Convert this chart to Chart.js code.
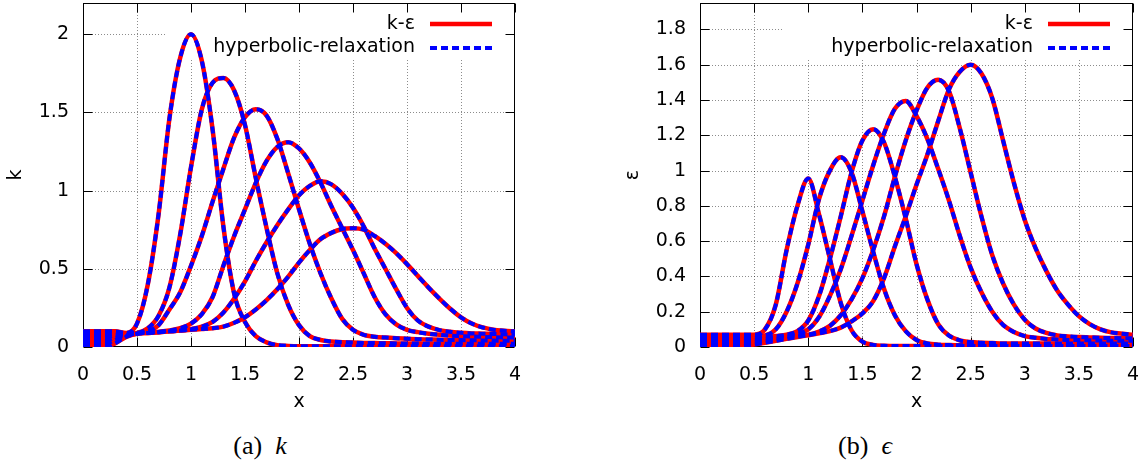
<!DOCTYPE html>
<html><head><meta charset="utf-8">
<script src="https://cdn.jsdelivr.net/npm/chart.js@4.4.1/dist/chart.umd.min.js"></script>
<style>
html,body{margin:0;padding:0;background:#fff;}
#wrap{position:relative;width:1147px;height:467px;overflow:hidden;background:#fff;}
.cv{position:absolute;top:0;}
.cap{position:absolute;top:433px;font-family:"Liberation Serif","DejaVu Serif",serif;font-size:26px;line-height:26px;white-space:nowrap;color:#000;text-align:center;width:200px;}
.cap i{font-style:italic;}
</style></head>
<body><div id="wrap">
<div class="cv" style="left:0;"><canvas id="c1" width="570" height="420"></canvas></div>
<div class="cv" style="left:617px;"><canvas id="c2" width="530" height="420"></canvas></div>
<div class="cap" style="left:160px;">(a)&nbsp;&nbsp;<i>k</i></div>
<div class="cap" style="left:765px;">(b)&nbsp;&nbsp;<i>ϵ</i></div>
</div>
<script>
const xs = [0,0.1,0.2,0.3,0.4,0.5,0.6,0.7,0.8,0.9,
  1,1.1,1.2,1.3,1.4,1.5,1.6,1.7,1.8,1.9,
  2,2.1,2.2,2.3,2.4,2.5,2.6,2.7,2.8,2.9,
  3,3.1,3.2,3.3,3.4,3.5,3.6,3.7,3.8,3.9,
  4];
const legendLabels = ['k-ε', 'hyperbolic-relaxation'];

// k curves
const k1 = [0.1,0.1,0.1,0.1,0.09,0.15,0.40,0.85,1.46,1.85,
  2.0,1.83,1.39,0.77,0.34,0.16,0.07,0.03,0.012,0.007,
  0.005,0.005,0.005,0.005,0.005,0.005,0.005,0.005,0.005,0.005,
  0.005,0.005,0.005,0.005,0.005,0.005,0.005,0.005,0.005,0.005,
  0.005];
const k2 = [0.08,0.08,0.08,0.085,0.085,0.09,0.12,0.2,0.38,0.72,
  1.15,1.52,1.69,1.72,1.64,1.42,1.08,0.76,0.47,0.27,
  0.14,0.07,0.045,0.035,0.031,0.028,0.026,0.025,0.024,0.023,
  0.022,0.022,0.021,0.021,0.021,0.02,0.02,0.02,0.02,0.02,
  0.02];
const k3 = [0.06,0.06,0.06,0.075,0.08,0.088,0.1,0.14,0.24,0.35,
  0.52,0.71,0.93,1.14,1.34,1.47,1.52,1.48,1.33,1.11,
  0.88,0.66,0.47,0.31,0.18,0.11,0.078,0.066,0.06,0.056,
  0.053,0.05,0.048,0.046,0.045,0.044,0.043,0.042,0.041,0.04,
  0.04];
const k4 = [0.04,0.04,0.04,0.06,0.075,0.087,0.092,0.097,0.105,0.12,
  0.15,0.21,0.32,0.52,0.71,0.88,1.05,1.19,1.28,1.31,
  1.27,1.18,1.05,0.90,0.76,0.62,0.47,0.32,0.21,0.145,
  0.11,0.095,0.085,0.078,0.073,0.07,0.067,0.065,0.063,0.061,
  0.06];
const k5 = [0.02,0.02,0.02,0.045,0.07,0.086,0.09,0.095,0.1,0.105,
  0.115,0.13,0.16,0.22,0.31,0.42,0.55,0.67,0.78,0.88,
  0.97,1.03,1.06,1.04,0.98,0.89,0.77,0.63,0.50,0.37,
  0.25,0.17,0.13,0.108,0.097,0.091,0.087,0.085,0.083,0.081,
  0.08];
const k6 = [0,0,0,0.025,0.065,0.085,0.09,0.095,0.1,0.105,
  0.11,0.115,0.12,0.13,0.155,0.19,0.24,0.30,0.37,0.45,
  0.54,0.62,0.69,0.73,0.755,0.76,0.75,0.71,0.66,0.60,
  0.53,0.455,0.38,0.31,0.245,0.19,0.15,0.125,0.11,0.104,
  0.10];

// epsilon curves
const e1 = [0.07,0.07,0.07,0.07,0.07,0.07,0.1,0.24,0.55,0.8,
  0.955,0.75,0.5,0.25,0.095,0.03,0.012,0.007,0.005,0.005,
  0.005,0.005,0.005,0.005,0.005,0.005,0.005,0.005,0.005,0.005,
  0.005,0.005,0.005,0.005,0.005,0.005,0.005,0.005,0.005,0.005,
  0.005];
const e2 = [0.056,0.056,0.056,0.056,0.058,0.06,0.065,0.1,0.2,0.36,
  0.58,0.84,1.0,1.075,0.99,0.77,0.54,0.33,0.18,0.09,
  0.04,0.02,0.013,0.011,0.01,0.01,0.01,0.01,0.01,0.01,
  0.01,0.01,0.01,0.01,0.01,0.01,0.01,0.01,0.01,0.01,
  0.01];
const e3 = [0.042,0.042,0.042,0.042,0.045,0.05,0.055,0.062,0.07,0.09,
  0.15,0.29,0.5,0.74,0.99,1.17,1.235,1.16,0.965,0.73,
  0.47,0.27,0.13,0.065,0.038,0.028,0.024,0.022,0.02,0.02,
  0.02,0.02,0.02,0.02,0.02,0.02,0.02,0.02,0.02,0.02,
  0.02];
const e4 = [0.028,0.028,0.028,0.028,0.032,0.038,0.046,0.055,0.063,0.075,
  0.1,0.17,0.29,0.44,0.63,0.83,1.03,1.21,1.35,1.395,
  1.31,1.18,1.01,0.83,0.63,0.45,0.31,0.2,0.125,0.085,
  0.062,0.052,0.046,0.043,0.04,0.039,0.038,0.037,0.036,0.035,
  0.035];
const e5 = [0.014,0.014,0.014,0.014,0.018,0.026,0.035,0.045,0.055,0.063,
  0.07,0.088,0.12,0.18,0.27,0.39,0.55,0.74,0.965,1.17,
  1.34,1.47,1.515,1.45,1.24,0.99,0.74,0.52,0.36,0.24,
  0.155,0.105,0.08,0.066,0.06,0.056,0.054,0.052,0.051,0.05,
  0.05];
const e6 = [0,0,0,0,0.005,0.014,0.024,0.035,0.046,0.057,
  0.067,0.078,0.09,0.11,0.145,0.19,0.26,0.39,0.57,0.74,
  0.92,1.09,1.28,1.46,1.56,1.6,1.55,1.41,1.17,0.93,
  0.72,0.56,0.43,0.32,0.24,0.175,0.13,0.10,0.083,0.075,
  0.07];

const kCurves = [k1,k2,k3,k4,k5,k6];
const eCurves = [e1,e2,e3,e4,e5,e6];

Chart.defaults.font.family = '"DejaVu Sans", sans-serif';
Chart.defaults.font.size = 19;
Chart.defaults.color = '#000';

const fmt = v => String(Math.round(v * 1000) / 1000);

const framePlugin = {
  id: 'gnuframe',
  beforeDatasetsDraw(chart) {
    const {ctx, chartArea: a, scales: {x, y}} = chart;
    ctx.save();
    ctx.strokeStyle = 'rgba(0,0,0,0.45)';
    ctx.lineWidth = 1;
    ctx.setLineDash([1, 2]);
    x.ticks.forEach(t => {
      const px = Math.round(x.getPixelForValue(t.value)) + 0.5;
      if (px < a.left + 2 || px > a.right - 2) return;
      ctx.beginPath(); ctx.moveTo(px, a.top); ctx.lineTo(px, a.bottom); ctx.stroke();
    });
    y.ticks.forEach(t => {
      const py = Math.round(y.getPixelForValue(t.value)) + 0.5;
      if (py < a.top + 2 || py > a.bottom - 2) return;
      ctx.beginPath(); ctx.moveTo(a.left, py); ctx.lineTo(a.right, py); ctx.stroke();
    });
    ctx.setLineDash([]);
    const o = chart.options.plugins.gnuframe;
    ctx.fillStyle = '#fff';
    ctx.fillRect(a.left + o.boxLeft, a.top + 1, a.right - a.left - o.boxLeft - 1, o.boxHeight);
    ctx.strokeStyle = '#000';
    ctx.lineWidth = 1;
    const L = Math.round(a.left) + 0.5, R = Math.round(a.right) - 0.5;
    const T = Math.round(a.top) + 0.5, B = Math.round(a.bottom) - 0.5;
    ctx.strokeRect(L, T, R - L, B - T);
    const tl = 9;
    x.ticks.forEach(t => {
      const px = Math.round(x.getPixelForValue(t.value)) + 0.5;
      ctx.beginPath();
      ctx.moveTo(px, B); ctx.lineTo(px, B - tl);
      ctx.moveTo(px, T); ctx.lineTo(px, T + tl);
      ctx.stroke();
    });
    y.ticks.forEach(t => {
      const py = Math.round(y.getPixelForValue(t.value)) + 0.5;
      ctx.beginPath();
      ctx.moveTo(L, py); ctx.lineTo(L + tl, py);
      ctx.moveTo(R, py); ctx.lineTo(R - tl, py);
      ctx.stroke();
    });
    ctx.restore();
  },
  afterDatasetsDraw(chart) {
    const {ctx, chartArea: a} = chart;
    ctx.save();
    ctx.font = '19px "DejaVu Sans", sans-serif';
    ctx.fillStyle = '#000';
    ctx.textAlign = 'right';
    ctx.textBaseline = 'middle';
    ctx.fillText(legendLabels[0], a.right - 100, a.top + 21.5);
    ctx.fillText(legendLabels[1], a.right - 100, a.top + 44);
    ctx.lineCap = 'butt';
    ctx.strokeStyle = '#ff0000';
    ctx.lineWidth = 4.5;
    ctx.beginPath(); ctx.moveTo(a.right - 85, a.top + 21); ctx.lineTo(a.right - 23, a.top + 21); ctx.stroke();
    ctx.strokeStyle = '#0000ff';
    ctx.lineWidth = 4;
    ctx.setLineDash([7, 4]);
    ctx.beginPath(); ctx.moveTo(a.right - 85, a.top + 45); ctx.lineTo(a.right - 23, a.top + 45); ctx.stroke();
    ctx.restore();
  }
};

function makeChart(id, curves, yMax, yStep, yTitle, padRight) {
  const datasets = [];
  curves.forEach(ys => {
    const pts = xs.map((x, j) => ({x: x, y: ys[j]}));
    datasets.push({label: legendLabels[0], data: pts, borderColor: '#ff0000', borderWidth: 4.5,
      pointRadius: 0, fill: false, cubicInterpolationMode: 'monotone', order: 1});
    datasets.push({label: legendLabels[1], data: pts, borderColor: '#0000ff', borderWidth: 4,
      borderDash: [7, 4], pointRadius: 0, fill: false, cubicInterpolationMode: 'monotone', order: 0});
  });
  return new Chart(document.getElementById(id), {
    type: 'line',
    data: {datasets},
    options: {
      responsive: false,
      animation: false,
      events: [],
      layout: {padding: {top: 3, right: padRight, left: 0, bottom: 0}},
      plugins: {
        legend: {display: false},
        tooltip: {enabled: false},
        gnuframe: {boxLeft: 82, boxHeight: 55}
      },
      scales: {
        x: {
          type: 'linear', min: 0, max: 4,
          grid: {display: false, drawTicks: false, tickLength: 0},
          border: {display: false},
          ticks: {stepSize: 0.5, padding: 17, callback: fmt, color: '#000', maxRotation: 0, autoSkip: false},
          title: {display: true, text: 'x', color: '#000', padding: {top: 0, bottom: 7}},
          afterFit: s => { s.height = 73; s.paddingLeft = 0; s.paddingRight = 0; }
        },
        y: {
          type: 'linear', min: 0, max: yMax,
          grid: {display: false, drawTicks: false, tickLength: 0},
          border: {display: false},
          ticks: {stepSize: yStep, includeBounds: false, padding: 14, callback: fmt, color: '#000', autoSkip: false},
          title: {display: true, text: yTitle, color: '#000', padding: {top: 5, bottom: 0}},
          afterFit: s => { s.width = 83; s.paddingTop = 0; s.paddingBottom = 0; }
        }
      }
    },
    plugins: [framePlugin]
  });
}

makeChart('c1', kCurves, 2.2, 0.5, 'k', 55);
makeChart('c2', eCurves, 1.95, 0.2, 'ε', 14);
</script>
</body></html>
